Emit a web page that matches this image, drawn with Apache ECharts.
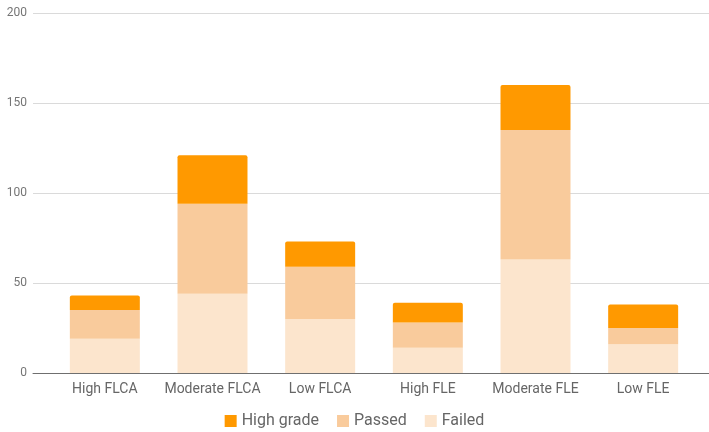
<!DOCTYPE html>
<html>
<head>
<meta charset="utf-8">
<script src="https://cdn.jsdelivr.net/npm/echarts@6/dist/echarts.min.js"></script>
<style>
  html, body { margin: 0; padding: 0; background: #fff; }
  #chart { width: 709px; height: 432px; }
</style>
</head>
<body>
<div id="chart"></div>
<script>
// Student outcomes per group, stacked: failed, passed, high grade
const categories = ['High FLCA', 'Moderate FLCA', 'Low FLCA', 'High FLE', 'Moderate FLE', 'Low FLE'];
const failed = [19, 44, 30, 14, 63, 16];
const passed = [16, 50, 29, 14, 72, 9];
const highGrade = [8, 27, 14, 11, 25, 13];
const yTicks = [0, 50, 100, 150, 200];

const colors = { high: '#ff9900', passed: '#f9cb9c', failed: '#fce5cd' };
const font = 'Roboto, "Noto Sans", sans-serif';

const chart = echarts.init(document.getElementById('chart'), null, { renderer: 'canvas' });

const yMin = yTicks[0], yMax = yTicks[yTicks.length - 1];
const yStep = yTicks[1] - yTicks[0];

chart.setOption({
  animation: false,
  backgroundColor: '#ffffff',
  legend: {
    top: 413,
    left: 'center',
    padding: 0,
    itemWidth: 12,
    itemHeight: 12,
    itemGap: 18,
    icon: 'rect',
    textStyle: { color: '#666', fontSize: 16, fontFamily: font },
    data: ['High grade', 'Passed', 'Failed']
  },
  grid: [
    // background grid: gridlines and y labels across the full width
    { left: 33, right: 0, top: 13, bottom: 59 },
    // plotting grid for the bars
    { left: 51, right: 12, top: 13, bottom: 59 }
  ],
  xAxis: [
    {
      gridIndex: 0, type: 'value', min: 0, max: 1, show: true,
      axisLine: { show: true, onZero: false, lineStyle: { color: '#6f6f6f', width: 1 } },
      axisTick: { show: false }, axisLabel: { show: false }, splitLine: { show: false }
    },
    {
      gridIndex: 1, type: 'category', data: categories,
      axisLine: { show: false }, axisTick: { show: false },
      axisLabel: { color: '#666', fontSize: 14, fontFamily: font, margin: 9, interval: 0 }
    }
  ],
  yAxis: [
    {
      gridIndex: 0, type: 'value', min: yMin, max: yMax, interval: yStep,
      axisLine: { show: false }, axisTick: { show: false },
      axisLabel: { color: '#757575', fontSize: 12, fontFamily: font, margin: 6 },
      splitLine: { lineStyle: { color: '#dadada', width: 1 } }
    },
    {
      gridIndex: 1, type: 'value', min: yMin, max: yMax, interval: yStep,
      show: false, splitLine: { show: false }
    }
  ],
  series: [
    {
      name: 'Failed', type: 'bar', stack: 'total', xAxisIndex: 1, yAxisIndex: 1,
      data: failed, barCategoryGap: '35%', itemStyle: { color: colors.failed }, z: 3
    },
    {
      name: 'Passed', type: 'bar', stack: 'total', xAxisIndex: 1, yAxisIndex: 1,
      data: passed, itemStyle: { color: colors.passed }, z: 3
    },
    {
      name: 'High grade', type: 'bar', stack: 'total', xAxisIndex: 1, yAxisIndex: 1,
      data: highGrade, itemStyle: { color: colors.high, borderRadius: [2, 2, 0, 0] }, z: 3
    }
  ]
});
</script>
</body>
</html>
